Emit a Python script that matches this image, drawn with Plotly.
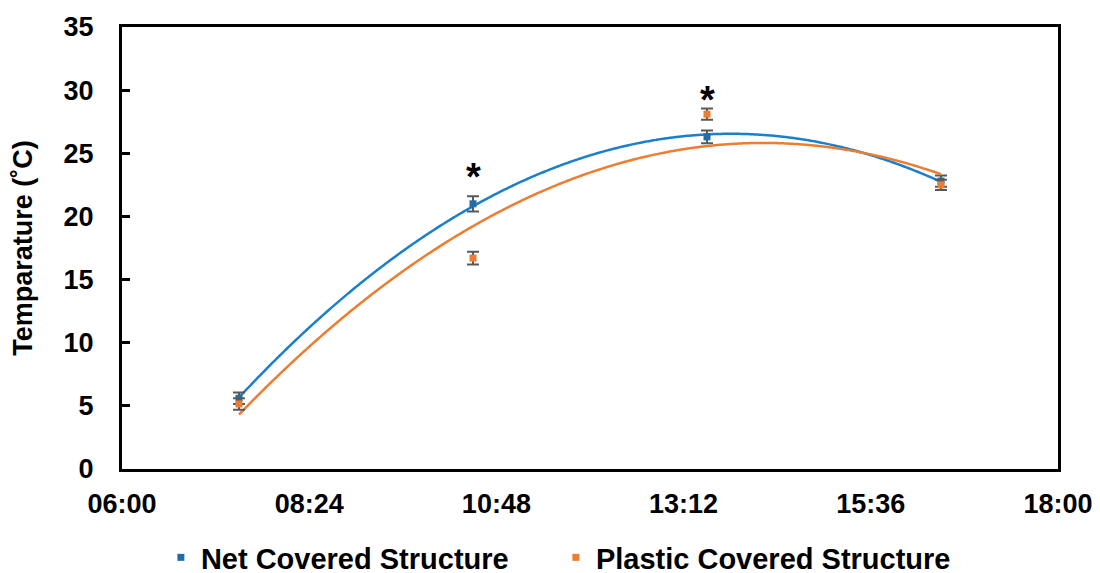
import numpy as np
import pandas as pd
import plotly.graph_objects as go

# ---- data ----
times = ["07:30", "10:30", "13:30", "16:30"]
net_temp = [5.6, 21.0, 26.3, 22.8]
net_err = [0.45, 0.6, 0.5, 0.45]
plastic_temp = [5.15, 16.7, 28.1, 22.5]
plastic_err = [0.45, 0.5, 0.45, 0.4]
star_times = ["10:30", "13:30"]
star_temps = [23.1, 29.2]
series_names = ["Net Covered Structure", "Plastic Covered Structure"]
y_ticks = [0, 5, 10, 15, 20, 25, 30, 35]

DAY = "2024-01-01 "
x_dt = pd.to_datetime([DAY + t for t in times])
hours = np.array([d.hour + d.minute / 60 for d in x_dt])

NET_MK = "#1f6ea6"
NET_LN = "#1b7fcc"
PL_MK = "#ed7d31"
PL_LN = "#ed7d31"
FONT = "Liberation Sans, Arial, sans-serif"

fig = go.Figure()

def add_series(vals, errs, name, mk, ln):
    coef = np.polyfit(hours, vals, 2)
    grid = np.linspace(hours.min(), hours.max(), 300)
    fit = np.polyval(coef, grid)
    grid_dt = pd.to_datetime(DAY + "00:00") + pd.to_timedelta(grid, unit="h")
    fig.add_trace(go.Scatter(x=grid_dt, y=fit, mode="lines",
                             line=dict(color=ln, width=2.5, shape="spline"),
                             showlegend=False, hoverinfo="skip"))
    fig.add_trace(go.Scatter(x=x_dt, y=vals, mode="markers", name=name,
                             marker=dict(symbol="square", size=7, color=mk),
                             error_y=dict(type="data", array=errs, visible=True,
                                          color="#595959", thickness=2, width=6)))

add_series(net_temp, net_err, series_names[0], NET_MK, NET_LN)
add_series(plastic_temp, plastic_err, series_names[1], PL_MK, PL_LN)

for t, v in zip(star_times, star_temps):
    fig.add_annotation(x=pd.to_datetime(DAY + t), y=v, text="<b>*</b>",
                       showarrow=False, font=dict(size=38, color="black", family=FONT))

fig.update_layout(
    width=1092, height=575,
    paper_bgcolor="white", plot_bgcolor="white",
    margin=dict(l=114, r=42, t=19, b=114),
    font=dict(family=FONT, size=27, color="black"),
    showlegend=True,
    legend=dict(orientation="h", xref="container", x=0.14, xanchor="left",
                yref="container", y=0, yanchor="bottom",
                font=dict(size=29, family=FONT, color="black", weight="bold"),
                itemwidth=30, entrywidth=350),
)
fig.update_xaxes(
    type="date", automargin=False,
    range=[pd.to_datetime(DAY + "06:00"), pd.to_datetime(DAY + "18:00")],
    tick0=pd.to_datetime(DAY + "06:00"), dtick=8640000, tickformat="%H:%M",
    showgrid=False, zeroline=False, showline=True, linecolor="black", linewidth=3,
    mirror=True, ticks="", ticklabelstandoff=9,
    tickfont=dict(size=27, family=FONT, weight="bold"),
)
fig.update_yaxes(
    range=[0, 35], tickvals=y_ticks, automargin=False,
    showgrid=False, zeroline=False, showline=True, linecolor="black", linewidth=3,
    mirror=True, ticks="inside", ticklen=8, tickwidth=3, tickcolor="black",
    ticklabelstandoff=20,
    tickfont=dict(size=27, family=FONT, weight="bold"),
    title=dict(text="Temparature (˚C)", standoff=28,
               font=dict(size=27, family=FONT, weight="bold")),
)

fig.write_html("out.html")
